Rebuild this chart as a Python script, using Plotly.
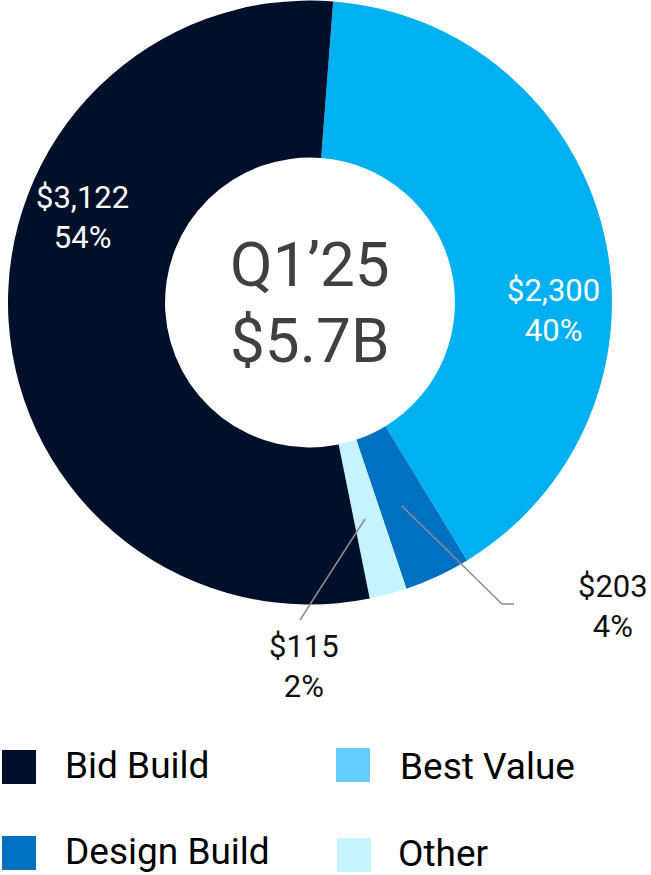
import plotly.graph_objects as go

W, H = 651, 875

# Data
categories = ["Best Value", "Design Build", "Other", "Bid Build"]
values = [2300, 203, 115, 3122]
slice_colors = ["#00b0f0", "#0070c0", "#c5f3ff", "#00102b"]
legend_order = ["Bid Build", "Best Value", "Design Build", "Other"]
legend_colors = {"Bid Build": "#00102b", "Best Value": "#66ccff",
                 "Design Build": "#0070c0", "Other": "#c5f3ff"}
center_title = "Q1’25"
center_total = "$5.7B"

total = sum(values)
pcts = [round(v / total * 100) for v in values]


def px(x, y):
    return x / W, 1 - y / H


fig = go.Figure()
fig.add_trace(go.Pie(
    labels=categories, values=values, hole=0.48, sort=False,
    direction="clockwise", rotation=4.4,
    marker=dict(colors=slice_colors, line=dict(width=0)),
    textinfo="none", hoverinfo="label+value+percent", showlegend=False,
    domain=dict(x=[8 / W, 612 / W], y=[1 - 605 / H, 1.0]),
))

annotations = []
shapes = []

# Slice labels (position per category)
label_pos = {"Bid Build": (82, 217, "white"), "Best Value": (553, 310, "white"),
             "Design Build": (613, 606, "#111111"), "Other": (304, 666, "#111111")}
for cat, v, p in zip(categories, values, pcts):
    x, y, col = label_pos[cat]
    ax, ay = px(x, y)
    annotations.append(dict(x=ax, y=ay, xref="paper", yref="paper",
                            text=f"${v:,}<br>{p}%", showarrow=False,
                            font=dict(family="Roboto", size=31, color=col),
                            xanchor="center", yanchor="middle"))

# Leader lines
leaders = [[(402, 506), (502, 604), (514, 604)], [(365, 519), (300, 620)]]
for pts in leaders:
    for (x0, y0), (x1, y1) in zip(pts[:-1], pts[1:]):
        a0, b0 = px(x0, y0)
        a1, b1 = px(x1, y1)
        shapes.append(dict(type="line", xref="paper", yref="paper",
                           x0=a0, y0=b0, x1=a1, y1=b1,
                           line=dict(color="#8c8c8c", width=1.5)))

# Center text
for txt, y in [(center_title, 264), (center_total, 341)]:
    ax, ay = px(310, y)
    annotations.append(dict(x=ax, y=ay, xref="paper", yref="paper", text=txt,
                            showarrow=False, xanchor="center", yanchor="middle",
                            font=dict(family="Roboto", size=62, color="#404040")))

# Custom legend: (square x, square y, text x, text y)
leg_pos = {"Bid Build": (2, 750, 63, 765), "Best Value": (336, 748, 398, 766),
           "Design Build": (2, 836, 63, 851), "Other": (337, 838, 396, 853)}
for name in legend_order:
    sx, sy, tx, ty = leg_pos[name]
    a0, b0 = px(sx, sy)
    a1, b1 = px(sx + 34, sy + 34)
    shapes.append(dict(type="rect", xref="paper", yref="paper", x0=a0, y0=b1,
                       x1=a1, y1=b0, fillcolor=legend_colors[name],
                       line=dict(width=0)))
    ax, ay = px(tx, ty)
    annotations.append(dict(x=ax, y=ay, xref="paper", yref="paper", text=name,
                            showarrow=False, xanchor="left", yanchor="middle",
                            font=dict(family="Roboto", size=37, color="#000000")))

fig.update_layout(width=W, height=H, margin=dict(l=0, r=0, t=0, b=0),
                  paper_bgcolor="white", plot_bgcolor="white",
                  annotations=annotations, shapes=shapes)
fig.write_html("out.html", config={"displayModeBar": False},
               post_script="document.body.style.margin='0';"
                           "document.body.style.overflow='hidden';")
